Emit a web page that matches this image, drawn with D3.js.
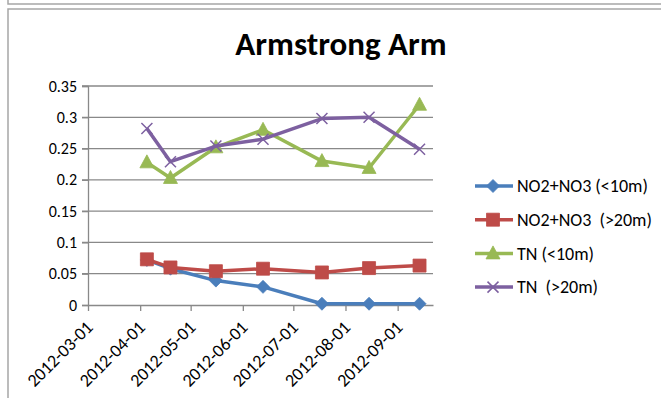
<!DOCTYPE html>
<html>
<head>
<meta charset="utf-8">
<script src="https://cdn.jsdelivr.net/npm/d3@7"></script>
<style>
  html, body { margin: 0; padding: 0; background: #fff; }
  svg { display: block; }
  text { font-family: Carlito, Calibri, Lato, sans-serif; fill: #000; }
</style>
</head>
<body>
<svg id="chart" width="661" height="398"></svg>
<script>
// Sampling dates
const sampleDates = ["2012-04-05", "2012-04-19", "2012-05-16", "2012-06-13", "2012-07-18", "2012-08-15", "2012-09-14"];

// Nitrogen concentrations per series
const no23Shallow = [0.072, 0.058, 0.039, 0.029, 0.002, 0.002, 0.002];
const no23Deep    = [0.073, 0.060, 0.054, 0.058, 0.052, 0.059, 0.063];
const tnShallow   = [0.228, 0.203, 0.252, 0.280, 0.230, 0.219, 0.320];
const tnDeep      = [0.282, 0.229, 0.254, 0.265, 0.298, 0.300, 0.249];

const seriesNames = ["NO2+NO3 (<10m)", "NO2+NO3  (>20m)", "TN (<10m)", "TN  (>20m)"];

// Axis ticks
const xTickLabels = ["2012-03-01", "2012-04-01", "2012-05-01", "2012-06-01", "2012-07-01", "2012-08-01", "2012-09-01"];
const yTickValues = [0, 0.05, 0.1, 0.15, 0.2, 0.25, 0.3, 0.35];

const FONT = "Carlito, Calibri, Lato, sans-serif";
const parse = d3.utcParse("%Y-%m-%d");
const svg = d3.select("#chart");

// Chart frame
const frame = svg.append("g").attr("fill", "none").attr("stroke", "#a6a6a6").attr("stroke-width", 1.5);
frame.append("path").attr("d", "M8,0V4H661");
frame.append("path").attr("d", "M661,9H8V398");

// Title
svg.append("text")
  .attr("x", 341).attr("y", 55)
  .attr("text-anchor", "middle")
  .attr("font-size", 33).attr("font-weight", "bold")
  .text("Armstrong Arm");

const x = d3.scaleUtc()
  .domain([parse("2012-03-01"), parse("2012-09-22")])
  .range([88, 433]);
const y = d3.scaleLinear().domain([0, 0.35]).range([305, 86]);

// Gridlines
svg.append("g")
  .selectAll("line")
  .data(yTickValues.filter(v => v > 0))
  .join("line")
  .attr("x1", 82).attr("x2", 433)
  .attr("y1", d => y(d)).attr("y2", d => y(d))
  .attr("stroke", "#898989").attr("stroke-width", 1.3);

// Y axis
const yAxis = svg.append("g")
  .attr("transform", "translate(88,0)")
  .call(d3.axisLeft(y).tickValues(yTickValues).tickSize(6).tickPadding(5).tickFormat(d => String(+d.toFixed(2))));
yAxis.select(".domain").attr("stroke", "#898989").attr("stroke-width", 1.3);
yAxis.selectAll(".tick line").attr("stroke", "#898989").attr("stroke-width", 1.3);
yAxis.selectAll("text").attr("font-size", 16).attr("font-family", FONT).attr("fill", "#000");

// X axis
const xAxis = svg.append("g")
  .attr("transform", "translate(0,305)")
  .call(d3.axisBottom(x).tickValues(xTickLabels.map(parse)).tickSize(6).tickSizeOuter(0).tickFormat(d3.utcFormat("%Y-%m-%d")));
xAxis.select(".domain").attr("stroke", "#898989").attr("stroke-width", 1.3);
xAxis.selectAll(".tick line").attr("stroke", "#898989").attr("stroke-width", 1.3);
xAxis.selectAll("text")
  .attr("font-size", 18).attr("font-family", FONT).attr("fill", "#000")
  .attr("text-anchor", "end")
  .attr("dy", "0.35em")
  .attr("transform", "translate(1,19) rotate(-45)")
  .attr("x", 0).attr("y", 0);

const series = [
  { name: seriesNames[0], values: no23Shallow, color: "#4a7ebb", marker: "diamond" },
  { name: seriesNames[1], values: no23Deep,    color: "#be4b48", marker: "square" },
  { name: seriesNames[2], values: tnShallow,   color: "#98b954", marker: "triangle" },
  { name: seriesNames[3], values: tnDeep,      color: "#7d60a0", marker: "cross" }
];

const symbolPath = {
  diamond: "M0,-6.5L6.5,0L0,6.5L-6.5,0Z",
  square: "M-6.5,-6.5H6.5V6.5H-6.5Z",
  triangle: "M0,-7.5L7,5.5H-7Z",
  cross: "M-5.5,-5.5L5.5,5.5M5.5,-5.5L-5.5,5.5"
};

function drawMarker(g, s) {
  const p = g.append("path").attr("d", symbolPath[s.marker]);
  if (s.marker === "cross") {
    p.attr("fill", "none").attr("stroke", s.color).attr("stroke-width", 1.5);
  } else {
    p.attr("fill", s.color).attr("stroke", s.color).attr("stroke-width", 0.8);
  }
}

const line = d3.line().x(d => x(d.date)).y(d => y(d.value));

series.forEach(s => {
  const pts = sampleDates.map((d, i) => ({ date: parse(d), value: s.values[i] }));
  const g = svg.append("g");
  g.append("path")
    .datum(pts)
    .attr("d", line)
    .attr("fill", "none")
    .attr("stroke", s.color)
    .attr("stroke-width", 3.5)
    .attr("stroke-linejoin", "round");
  pts.forEach(p => {
    const m = g.append("g").attr("transform", `translate(${x(p.date)},${y(p.value)})`);
    drawMarker(m, s);
  });
});

// Legend
const legend = svg.append("g");
series.forEach((s, i) => {
  const row = legend.append("g").attr("transform", `translate(0,${186 + i * 33.7})`);
  row.append("line")
    .attr("x1", 475).attr("x2", 513).attr("y1", 0).attr("y2", 0)
    .attr("stroke", s.color).attr("stroke-width", 3.5);
  drawMarker(row.append("g").attr("transform", "translate(493,0)"), s);
  row.append("text")
    .attr("x", 517).attr("y", 0).attr("dy", "0.35em")
    .attr("font-size", 18)
    .style("white-space", "pre")
    .text(s.name);
});
</script>
</body>
</html>
